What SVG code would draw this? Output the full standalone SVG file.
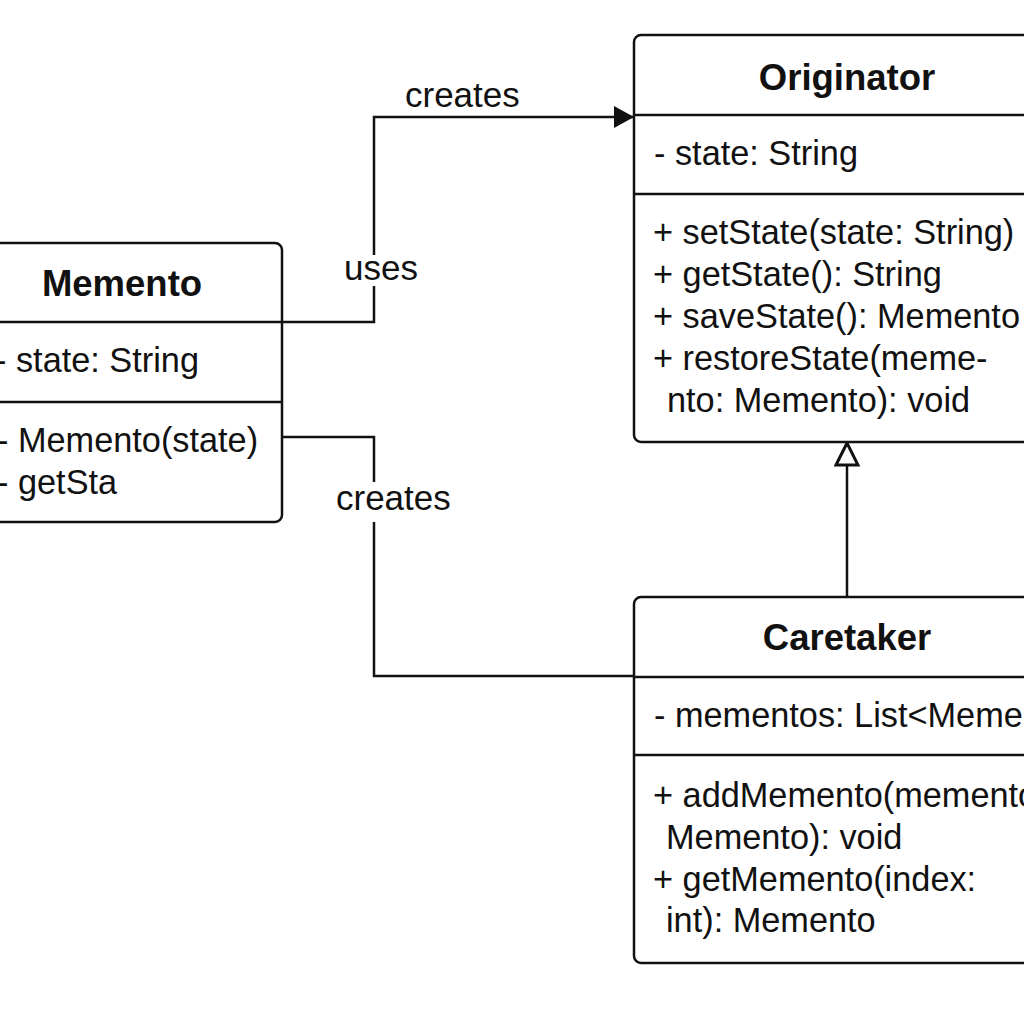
<svg xmlns="http://www.w3.org/2000/svg" width="1024" height="1024" viewBox="0 0 1024 1024">
<defs>
<style>
.box{fill:#fff;stroke:#111;stroke-width:2.5}
.div{stroke:#111;stroke-width:2.5}
.title{font-family:"Liberation Sans",Arial,sans-serif;font-weight:bold;font-size:36.5px;fill:#111;text-anchor:middle}
.txt{font-family:"Liberation Sans",Arial,sans-serif;font-size:34.3px;fill:#111}
.lbl{font-family:"Liberation Sans",Arial,sans-serif;font-size:35px;fill:#111}
.conn{fill:none;stroke:#111;stroke-width:2.5}
</style>
<marker id="filled" viewBox="0 0 20 22" refX="20" refY="11" markerWidth="20" markerHeight="22" markerUnits="userSpaceOnUse" orient="auto">
<path d="M0,0 L20,11 L0,22 Z" fill="#111"/>
</marker>
<marker id="hollow" viewBox="0 0 26 26" refX="24" refY="13" markerWidth="26" markerHeight="26" markerUnits="userSpaceOnUse" orient="auto">
<path d="M2,2 L24,13 L2,24 Z" fill="#fff" stroke="#111" stroke-width="3"/>
</marker>
</defs>
<rect width="1024" height="1024" fill="#fff"/>

<g id="connectors">
<path class="conn" d="M282,322 H374 V286 M374,255 V117 H634" marker-end="url(#filled)"/>
<path class="conn" d="M282,437 H374 V482 M374,522 V676 H634"/>
<path class="conn" d="M847,597 V443" marker-end="url(#hollow)"/>
<text class="lbl" x="405" y="107">creates</text>
<text class="lbl" x="344" y="280">uses</text>
<text class="lbl" x="336" y="510">creates</text>
</g>

<g id="memento">
<rect class="box" x="-20" y="243" width="302" height="279" rx="7"/>
<line class="div" x1="-20" y1="322" x2="282" y2="322"/>
<line class="div" x1="-20" y1="402" x2="282" y2="402"/>
<text class="title" x="122" y="296">Memento</text>
<text class="txt" x="-5" y="372">- state: String</text>
<text class="txt" x="-3" y="452">- Memento(state)</text>
<text class="txt" x="-3" y="494">- getSta</text>
</g>

<g id="originator">
<rect class="box" x="634" y="35" width="420" height="407" rx="7"/>
<line class="div" x1="634" y1="115" x2="1054" y2="115"/>
<line class="div" x1="634" y1="194" x2="1054" y2="194"/>
<text class="title" x="847" y="90">Originator</text>
<text class="txt" x="654" y="165">- state: String</text>
<text class="txt" x="653" y="244">+ setState(state: String)</text>
<text class="txt" x="653" y="286">+ getState(): String</text>
<text class="txt" x="653" y="328">+ saveState(): Memento</text>
<text class="txt" x="653" y="370">+ restoreState(meme-</text>
<text class="txt" x="667" y="412">nto: Memento): void</text>
</g>

<g id="caretaker">
<rect class="box" x="634" y="597" width="420" height="366" rx="7"/>
<line class="div" x1="634" y1="677" x2="1054" y2="677"/>
<line class="div" x1="634" y1="755" x2="1054" y2="755"/>
<text class="title" x="847" y="650">Caretaker</text>
<text class="txt" x="654" y="727">- mementos: List&lt;Memento&gt;</text>
<text class="txt" x="653" y="807">+ addMemento(memento:</text>
<text class="txt" x="666" y="849">Memento): void</text>
<text class="txt" x="653" y="891">+ getMemento(index:</text>
<text class="txt" x="666" y="932">int): Memento</text>
</g>
</svg>
